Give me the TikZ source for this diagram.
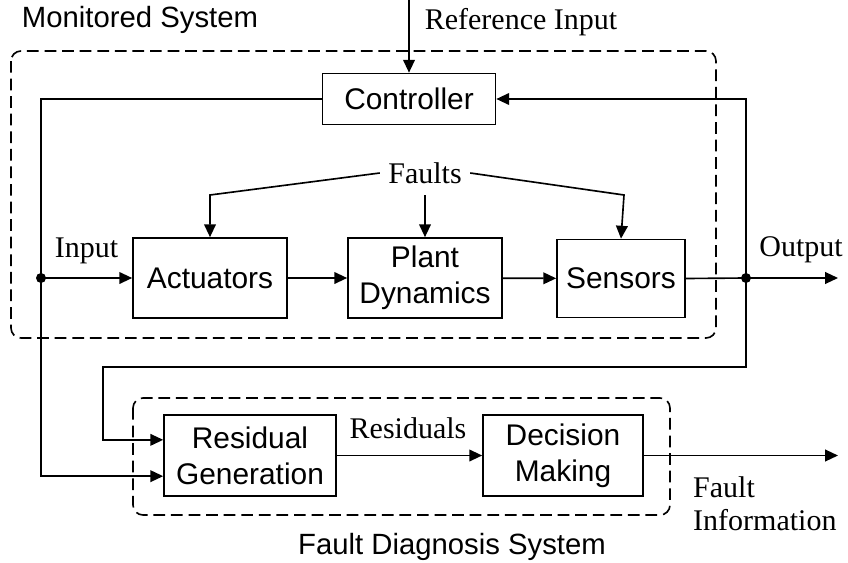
\documentclass[tikz,border=0pt]{standalone}
\usepackage{fontspec}
\setmainfont{Liberation Serif}
\setsansfont{Liberation Sans}
\usetikzlibrary{arrows.meta}

\tikzset{
  block/.style={draw, line width=1.4pt, inner sep=0pt, align=center,
    font=\sffamily\fontsize{25.5}{30.6}\selectfont},
  lbl/.style={inner sep=0pt, font=\fontsize{25.6}{28}\selectfont},
  title/.style={inner sep=0pt, font=\sffamily\fontsize{25}{30}\selectfont},
  group/.style={line width=1.4pt, dash pattern=on 10pt off 5pt, rounded corners=0.3cm},
  wire/.style={line width=1.4pt},
  sig/.style={line width=1.4pt, -{Triangle[length=11pt,width=10pt]}},
  junction/.style={circle, fill, inner sep=0pt, minimum size=0.3cm},
}

\begin{document}
\begin{tikzpicture}[x=0.03cm,y=-0.03cm]
    \useasboundingbox (0,0) rectangle (848,562);

    % system boundaries
    \draw[group] (11,51) rectangle (716,338);
    \draw[group] (133,398) rectangle (670,515);
    \node[title] (monsys) at (140,20) {Monitored System};
    \node[title] (fdsys) at (452,547) {Fault Diagnosis System};

    % blocks
    \node[block, minimum width=5.19cm, minimum height=1.53cm] (ctrl) at (409,99) {Controller};
    \node[block, minimum width=4.62cm, minimum height=2.4cm] (act) at (210,278) {Actuators};
    \node[block, minimum width=4.62cm, minimum height=2.4cm] (plant) at (425,278) {Plant\\Dynamics};
    \node[block, minimum width=3.84cm, minimum height=2.34cm] (sens) at (621,278.5) {Sensors};
    \node[block, minimum width=5.16cm, minimum height=2.43cm] (resgen) at (250,455.5) {Residual\\Generation};
    \node[block, minimum width=4.8cm, minimum height=2.43cm] (dec) at (563,455.5) {Decision\\Making};

    % junctions and free ends
    \node[junction] (jin) at (41,278) {};
    \node[junction] (jout) at (746,278) {};
    \coordinate (refin) at (409,0);
    \coordinate (outend) at (838,278);
    \coordinate (fiend) at (838,455.5);
    \coordinate (fbR) at (746,367);
    \coordinate (fbL) at (103,367);
    \coordinate (fl) at (210,195);
    \coordinate (fr) at (624,195);

    % labels
    \node[lbl] (reflbl) at (521,22) {Reference Input};
    \node[lbl, inner sep=0.25cm] (faults) at (425,173) {Faults};
    \node[lbl] (inlbl) at (86.5,251) {Input};
    \node[lbl] (outlbl) at (801,250) {Output};
    \node[lbl] (reslbl) at (408,428) {Residuals};
    \node[lbl, align=left, anchor=west] (filbl) at (693,504) {Fault\\Information};

    % signals
    \draw[sig] (refin) -- (ctrl.north);
    \draw[sig] (ctrl.west) -| (jin.center) |- ([yshift=-0.62cm]resgen.west);
    \draw[sig] (jin.center) -- (act.west);
    \draw[sig] (act) -- (plant);
    \draw[sig] (plant) -- (sens);
    \draw[wire] (sens.east) -- (jout.center);
    \draw[sig] (jout.center) -- (outend);
    \draw[sig] (jout.center) |- (ctrl.east);
    \draw[sig] (jout.center) -- (fbR) -- (fbL) |- ([yshift=0.47cm]resgen.west);
    \draw[sig] (resgen) -- (dec);
    \draw[sig] (dec) -- (fiend);

    % faults
    \draw[sig] (faults.west) -- (fl) -- (act.north);
    \draw[sig] ([yshift=-0.1cm]faults.south) -- (plant.north);
    \draw[sig] (faults.east) -- (fr) -- (sens.north);
  \end{tikzpicture}
\end{document}
